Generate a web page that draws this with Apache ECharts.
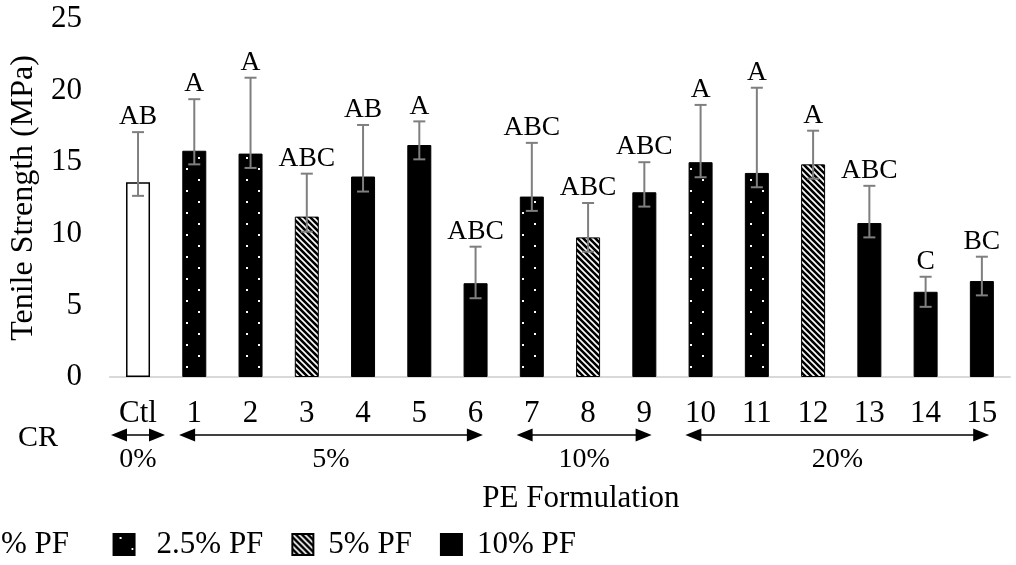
<!DOCTYPE html>
<html>
<head>
<meta charset="utf-8">
<script src="https://cdn.jsdelivr.net/npm/echarts@6/dist/echarts.min.js"></script>
<style>html,body{margin:0;padding:0;background:#fff;}#c{width:1016px;height:565px;}</style>
</head>
<body>
<div id="c"></div>
<script>
// ---- data ----
const categories = ['Ctl','1','2','3','4','5','6','7','8','9','10','11','12','13','14','15'];
const means   = [13.6, 15.8, 15.6, 11.2, 14.0, 16.2, 6.55, 12.6, 9.75, 12.9, 15.0, 14.25, 14.85, 10.75, 5.95, 6.7];
const errHigh = [17.1, 19.4, 20.9, 14.2, 17.6, 17.85, 9.1, 16.35, 12.15, 15.0, 19.0, 20.2, 17.2, 13.35, 7.0, 8.4];
const errLow  = [12.65, 14.85, 14.6, 10.15, 12.95, 15.2, 5.5, 11.6, 8.75, 11.9, 13.95, 13.25, 13.85, 9.75, 4.9, 5.7];
const letters = ['AB','A','A','ABC','AB','A','ABC','ABC','ABC','ABC','A','A','A','ABC','C','BC'];
const pfLevel = ['0% PF','2.5% PF','2.5% PF','5% PF','10% PF','10% PF','10% PF','2.5% PF','5% PF','10% PF','2.5% PF','2.5% PF','5% PF','10% PF','10% PF','10% PF'];
const pfNames = ['0% PF','2.5% PF','5% PF','10% PF'];
const crLabels = ['0%','5%','10%','20%'];
const crStart  = [0, 1, 7, 10];
const crEnd    = [0, 6, 9, 15];
const yTicks = [0, 5, 10, 15, 20, 25];

// ---- styles ----
const FONT = 'Liberation Serif';
function makeDots() {
  const c = document.createElement('canvas'); c.width = 24; c.height = 22;
  const g = c.getContext('2d');
  g.fillStyle = '#000'; g.fillRect(0, 0, 24, 22);
  g.fillStyle = '#fff'; g.fillRect(6, 3, 2, 2); g.fillRect(18, 14, 2, 2);
  return c;
}
function makeHatch() {
  const s = 6;
  const c = document.createElement('canvas'); c.width = s; c.height = s;
  const g = c.getContext('2d');
  g.fillStyle = '#000'; g.fillRect(0, 0, s, s);
  g.strokeStyle = '#fff'; g.lineWidth = 1.6;
  g.beginPath();
  g.moveTo(-1, -1); g.lineTo(s + 1, s + 1);
  g.moveTo(-1, s - 1); g.lineTo(1, s + 1);
  g.moveTo(s - 1, -1); g.lineTo(s + 1, 1);
  g.stroke();
  return c;
}
const pfStyle = {
  '0% PF':   {color: '#ffffff', borderColor: '#000', borderWidth: 1.5},
  '2.5% PF': {color: {image: makeDots(), repeat: 'repeat'}, borderColor: '#000', borderWidth: 1},
  '5% PF':   {color: {image: makeHatch(), repeat: 'repeat'}, borderColor: '#000', borderWidth: 1},
  '10% PF':  {color: '#000000', borderColor: '#000', borderWidth: 1}
};
const legendPad = {
  '0% PF': [0, 0, 0, 16],
  '2.5% PF': [0, 0, 0, 17],
  '5% PF': [0, 0, 0, 10],
  '10% PF': [0, 0, 0, 10]
};

const barSeries = pfNames.map(name => ({
  name: name,
  type: 'bar',
  barWidth: 24,
  barGap: '-100%',
  itemStyle: pfStyle[name],
  emphasis: {disabled: true},
  data: means.map((v, i) => pfLevel[i] === name ? v : '-')
}));

const errSeries = {
  type: 'custom',
  name: 'err',
  z: 10,
  silent: true,
  encode: {x: 0, y: [1, 2]},
  data: categories.map((c, i) => [i, errHigh[i], errLow[i]]),
  renderItem: function (params, api) {
    const i = params.dataIndex;
    const top = api.coord([api.value(0), api.value(1)]);
    const low = api.coord([api.value(0), api.value(2)]);
    const x = top[0], cap = 6;
    const st = {stroke: '#7f7f7f', lineWidth: 2};
    return {
      type: 'group',
      children: [
        {type: 'line', shape: {x1: x, y1: top[1], x2: x, y2: low[1]}, style: st},
        {type: 'line', shape: {x1: x - cap, y1: top[1], x2: x + cap, y2: top[1]}, style: st},
        {type: 'line', shape: {x1: x - cap, y1: low[1], x2: x + cap, y2: low[1]}, style: st},
        {type: 'text', style: {text: letters[i], x: x, y: top[1] - 1, align: 'center', verticalAlign: 'bottom',
          font: '27.5px "' + FONT + '"', fill: '#000'}}
      ]
    };
  }
};

const crSeries = {
  type: 'custom',
  name: 'cr',
  z: 10,
  silent: true,
  encode: {x: 0, y: 1},
  data: crStart.map((s, k) => [s, 0]),
  renderItem: function (params, api) {
    const k = params.dataIndex;
    const band = api.size([1, 0])[0];
    const p1 = api.coord([crStart[k], 0]);
    const p2 = api.coord([crEnd[k], 0]);
    const single = crStart[k] === crEnd[k];
    const x1 = p1[0] - (single ? 0.48 : 0.27) * band;
    const x2 = p2[0] + (single ? 0.48 : 0.13) * band;
    const y = p1[1] + 58;
    const hl = 16, hh = 6.5;
    return {
      type: 'group',
      children: [
        {type: 'line', shape: {x1: x1 + hl - 1, y1: y, x2: x2 - hl + 1, y2: y}, style: {stroke: '#000', lineWidth: 1.5}},
        {type: 'polygon', shape: {points: [[x1, y], [x1 + hl, y - hh], [x1 + hl, y + hh]]}, style: {fill: '#000'}},
        {type: 'polygon', shape: {points: [[x2, y], [x2 - hl, y - hh], [x2 - hl, y + hh]]}, style: {fill: '#000'}},
        {type: 'text', style: {text: crLabels[k], x: (x1 + x2) / 2, y: y + 25, align: 'center', verticalAlign: 'middle',
          font: '28px "' + FONT + '"', fill: '#000'}}
      ]
    };
  }
};

const chart = echarts.init(document.getElementById('c'), null, {renderer: 'canvas'});
chart.setOption({
  animation: false,
  backgroundColor: '#fff',
  textStyle: {fontFamily: FONT, color: '#000'},
  grid: {left: 108, right: 6, top: 19, bottom: 188, containLabel: false},
  legend: {
    data: pfNames.map(n => ({name: n, textStyle: {padding: legendPad[n]}})),
    left: -57.5, top: 529, padding: 0,
    icon: 'rect', itemWidth: 21, itemHeight: 21, itemGap: 28,
    selectedMode: false,
    formatter: n => n === pfNames[0] ? n + '  ' : n,
    textStyle: {fontFamily: FONT, fontSize: 31, color: '#000'}
  },
  xAxis: {
    type: 'category',
    data: categories,
    axisLine: {lineStyle: {color: '#d9d9d9', width: 2}},
    axisTick: {show: false},
    axisLabel: {margin: 21, fontSize: 31, fontFamily: FONT, color: '#000', interval: 0},
    name: 'PE Formulation',
    nameLocation: 'middle',
    nameGap: 106,
    nameTextStyle: {fontSize: 31, fontFamily: FONT, color: '#000', padding: [0, 0, 0, 42]}
  },
  yAxis: {
    type: 'value',
    min: yTicks[0], max: yTicks[yTicks.length - 1], interval: yTicks[1] - yTicks[0],
    axisLine: {show: false},
    axisTick: {show: false},
    splitLine: {show: false},
    axisLabel: {margin: 28, fontSize: 31, fontFamily: FONT, color: '#000'},
    name: 'Tenile Strength (MPa)',
    nameLocation: 'middle',
    nameRotate: 90,
    nameGap: 66,
    nameTextStyle: {fontSize: 32, fontFamily: FONT, color: '#000'}
  },
  graphic: [
    {type: 'text', x: 18, y: 438, style: {text: 'CR', font: '30px "' + FONT + '"', fill: '#000', verticalAlign: 'middle'}}
  ],
  series: barSeries.concat([errSeries, crSeries])
});
</script>
</body>
</html>
